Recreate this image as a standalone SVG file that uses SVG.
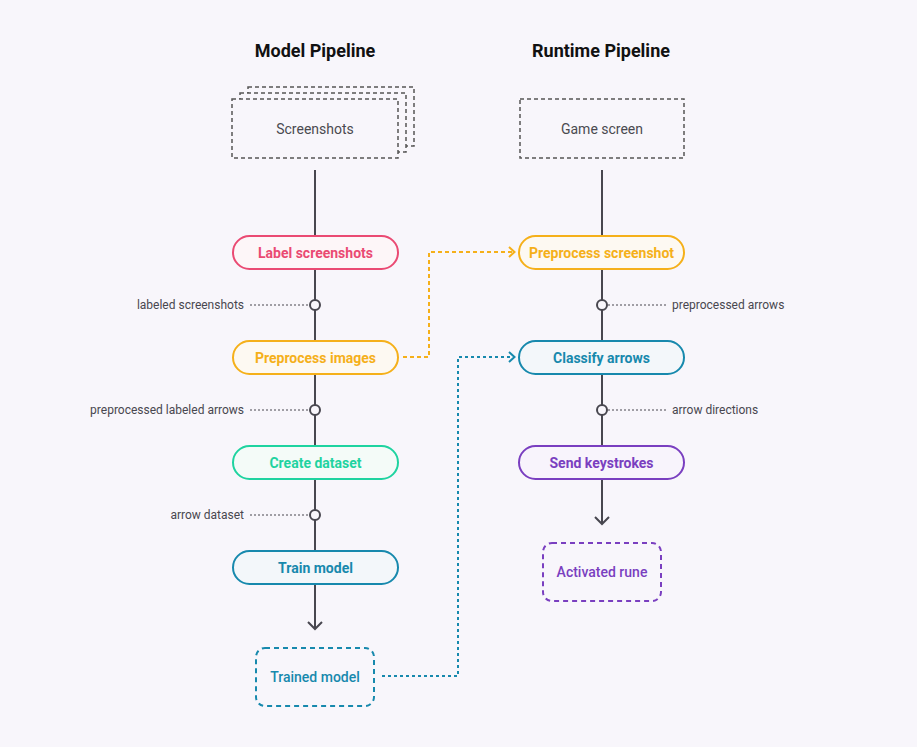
<svg xmlns="http://www.w3.org/2000/svg" width="917" height="747" viewBox="0 0 917 747">
<defs>
<style>
.title{font-family:Roboto,"Liberation Sans",sans-serif;font-weight:700;font-size:18px;fill:#111;text-anchor:middle}
.src{fill:#f8f6fb;stroke:#555;stroke-width:1.5;stroke-dasharray:4 3}
.srct{font-family:Roboto,"Liberation Sans",sans-serif;font-size:14px;fill:#4a4a50;text-anchor:middle}
.pill{stroke-width:2}
.pt{font-family:Roboto,"Liberation Sans",sans-serif;font-weight:700;font-size:14px;text-anchor:middle}
.flow{stroke:#48474f;stroke-width:2;fill:none}
.dot{fill:#f8f6fb;stroke:#48474f;stroke-width:2}
.lead{stroke:#48474f;stroke-width:1;stroke-dasharray:2 2;fill:none}
.lab{font-family:Roboto,"Liberation Sans",sans-serif;font-size:12px;fill:#48474f}
.out{stroke-width:2;stroke-dasharray:5 4}
.ot{font-family:Roboto,"Liberation Sans",sans-serif;font-size:14px;font-weight:500;text-anchor:middle}
</style>
<marker id="ag" viewBox="0 0 14 16" refX="10" refY="8" markerWidth="14" markerHeight="16" markerUnits="userSpaceOnUse" orient="auto">
<path d="M3 1 L10 8 L3 15" fill="none" stroke="#48474f" stroke-width="2"/>
</marker>
<marker id="ao" viewBox="0 0 12 12" refX="9" refY="6" markerWidth="12" markerHeight="12" markerUnits="userSpaceOnUse" orient="auto">
<path d="M3 1 L8.5 6 L3 11" fill="none" stroke="#f5b01a" stroke-width="2"/>
</marker>
<marker id="at" viewBox="0 0 12 12" refX="9" refY="6" markerWidth="12" markerHeight="12" markerUnits="userSpaceOnUse" orient="auto">
<path d="M3 1 L8.5 6 L3 11" fill="none" stroke="#1789ad" stroke-width="2"/>
</marker>
</defs>
<rect width="917" height="747" fill="#f8f6fb"/>
<text class="title" x="315" y="57">Model Pipeline</text>
<text class="title" x="601" y="57">Runtime Pipeline</text>

<g id="connectors">
<line class="flow" x1="315" y1="170" x2="315" y2="236"/>
<line class="flow" x1="315" y1="269" x2="315" y2="341"/>
<line class="flow" x1="315" y1="374" x2="315" y2="446"/>
<line class="flow" x1="315" y1="479" x2="315" y2="551"/>
<line class="flow" x1="315" y1="584" x2="315" y2="629" marker-end="url(#ag)"/>
<line class="flow" x1="602" y1="170" x2="602" y2="236"/>
<line class="flow" x1="602" y1="269" x2="602" y2="341"/>
<line class="flow" x1="602" y1="374" x2="602" y2="446"/>
<line class="flow" x1="602" y1="479" x2="602" y2="524" marker-end="url(#ag)"/>
<path d="M403 357 H429 V252 H515" fill="none" stroke="#f5b01a" stroke-width="2" stroke-dasharray="4 3" marker-end="url(#ao)"/>
<path d="M382 676 H458 V357 H515" fill="none" stroke="#1789ad" stroke-width="2" stroke-dasharray="3 3" marker-end="url(#at)"/>
<line class="lead" x1="250" y1="305" x2="309" y2="305"/>
<line class="lead" x1="250" y1="410" x2="309" y2="410"/>
<line class="lead" x1="250" y1="515" x2="309" y2="515"/>
<line class="lead" x1="608" y1="305" x2="667" y2="305"/>
<line class="lead" x1="608" y1="410" x2="667" y2="410"/>
<circle class="dot" cx="315" cy="305" r="5"/>
<circle class="dot" cx="315" cy="410" r="5"/>
<circle class="dot" cx="315" cy="515" r="5"/>
<circle class="dot" cx="602" cy="305" r="5"/>
<circle class="dot" cx="602" cy="410" r="5"/>
<text class="lab" x="244" y="309" text-anchor="end">labeled screenshots</text>
<text class="lab" x="244" y="414" text-anchor="end">preprocessed labeled arrows</text>
<text class="lab" x="244" y="519" text-anchor="end">arrow dataset</text>
<text class="lab" x="672" y="309">preprocessed arrows</text>
<text class="lab" x="672" y="414">arrow directions</text>
</g>

<g id="screenshots">
<rect class="src" x="248" y="87" width="166" height="59"/>
<rect class="src" x="240" y="93" width="166" height="59"/>
<rect class="src" x="232" y="99" width="166" height="59"/>
<text class="srct" x="315" y="134">Screenshots</text>
</g>
<g id="game-screen">
<rect class="src" x="520" y="99" width="164" height="59"/>
<text class="srct" x="602" y="134">Game screen</text>
</g>

<g id="label-screenshots">
<rect class="pill" x="233" y="236" width="165" height="33" rx="16.5" fill="#fdf6f8" stroke="#ea4a73"/>
<text class="pt" x="315.5" y="257.5" fill="#ea4a73">Label screenshots</text>
</g>
<g id="preprocess-images">
<rect class="pill" x="233" y="341" width="165" height="33" rx="16.5" fill="#fdf9f2" stroke="#f5b01a"/>
<text class="pt" x="315.5" y="362.5" fill="#f5b01a">Preprocess images</text>
</g>
<g id="create-dataset">
<rect class="pill" x="233" y="446" width="165" height="33" rx="16.5" fill="#f4fbf8" stroke="#1fd3a0"/>
<text class="pt" x="315.5" y="467.5" fill="#1fd3a0">Create dataset</text>
</g>
<g id="train-model">
<rect class="pill" x="233" y="551" width="165" height="33" rx="16.5" fill="#f3f7fa" stroke="#1789ad"/>
<text class="pt" x="315.5" y="572.5" fill="#1789ad">Train model</text>
</g>
<g id="trained-model">
<rect class="out" x="256" y="648" width="118" height="58" rx="9" fill="none" stroke="#1789ad"/>
<text class="ot" x="315" y="682" fill="#1789ad">Trained model</text>
</g>

<g id="preprocess-screenshot">
<rect class="pill" x="519" y="236" width="165" height="33" rx="16.5" fill="#fdf9f2" stroke="#f5b01a"/>
<text class="pt" x="601.5" y="257.5" fill="#f5b01a">Preprocess screenshot</text>
</g>
<g id="classify-arrows">
<rect class="pill" x="519" y="341" width="165" height="33" rx="16.5" fill="#f3f7fa" stroke="#1789ad"/>
<text class="pt" x="601.5" y="362.5" fill="#1789ad">Classify arrows</text>
</g>
<g id="send-keystrokes">
<rect class="pill" x="519" y="446" width="165" height="33" rx="16.5" fill="#f8f4fc" stroke="#7a3fc0"/>
<text class="pt" x="601.5" y="467.5" fill="#7a3fc0">Send keystrokes</text>
</g>
<g id="activated-rune">
<rect class="out" x="543" y="543" width="118" height="58" rx="9" fill="none" stroke="#7a3fc0"/>
<text class="ot" x="602" y="577" fill="#7a3fc0">Activated rune</text>
</g>
</svg>
